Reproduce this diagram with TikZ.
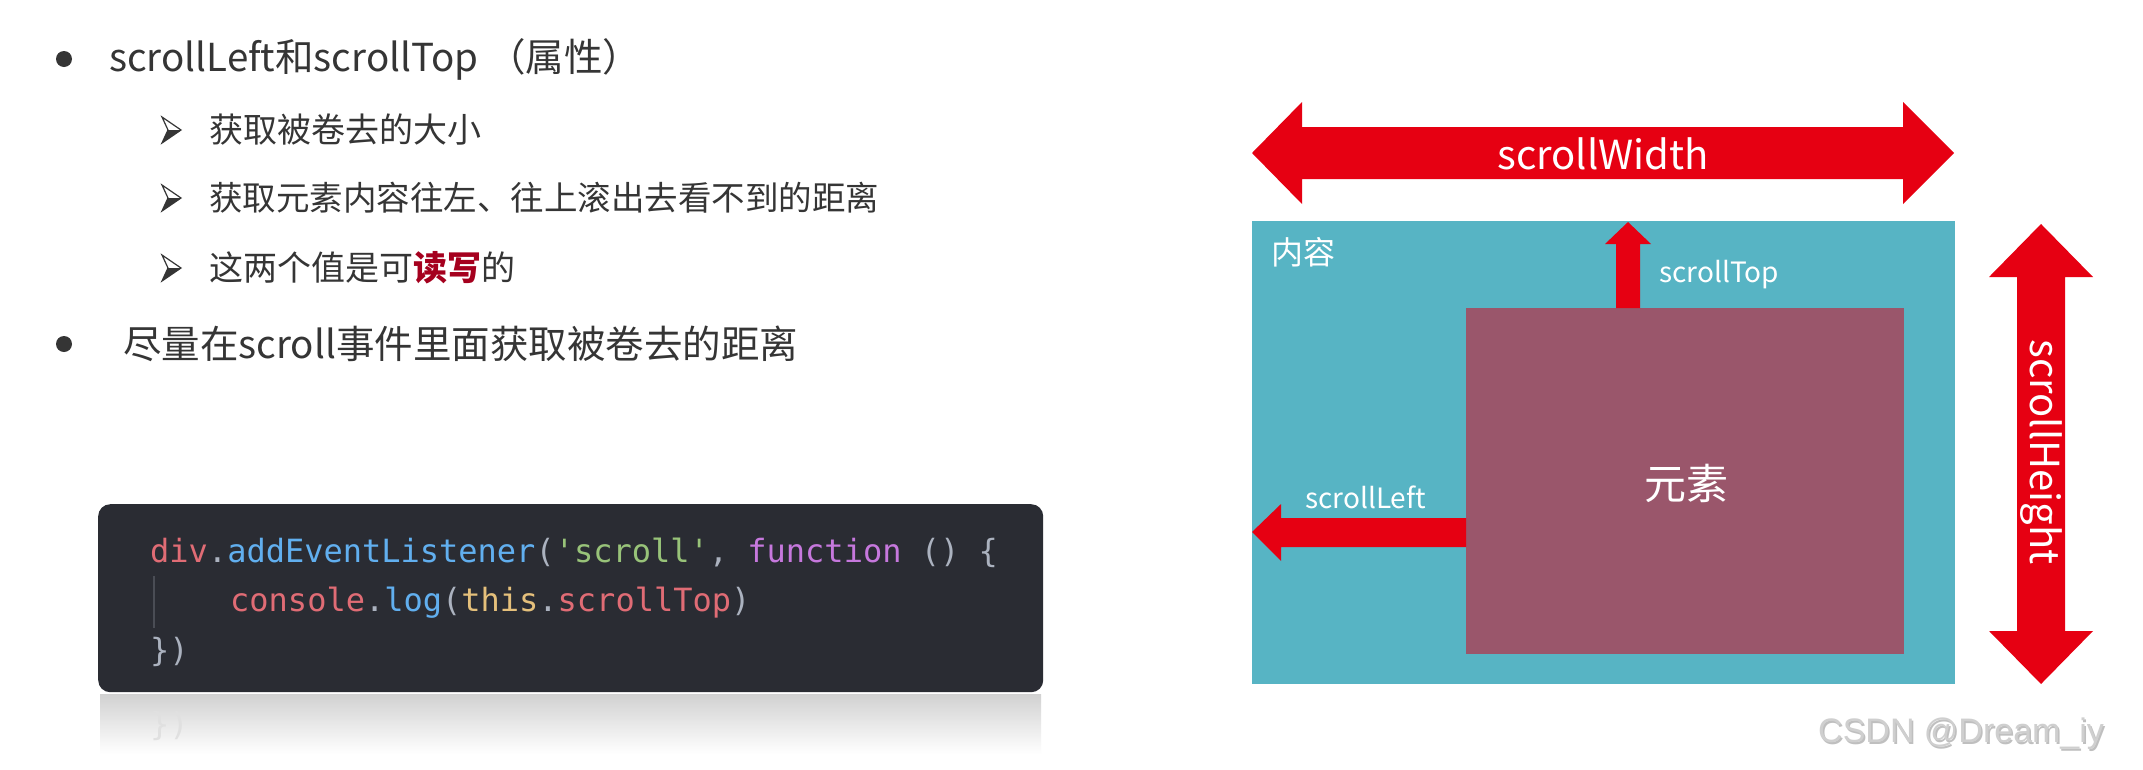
\documentclass[tikz,border=0pt]{standalone}
\usepackage{fontspec}
\newfontfamily\cjk{Noto Sans CJK SC}
\newfontfamily\wm{Liberation Sans}
\setmonofont{DejaVu Sans Mono}
\definecolor{txt}{HTML}{353535}
\definecolor{hl}{HTML}{A5001E}
\definecolor{tealc}{HTML}{57B4C4}
\definecolor{elemc}{HTML}{9A566B}
\definecolor{redc}{HTML}{E60012}
\definecolor{codebg}{HTML}{2A2C33}
\definecolor{cRed}{HTML}{E06C75}
\definecolor{cBlue}{HTML}{61AFEF}
\definecolor{cGreen}{HTML}{98C379}
\definecolor{cPurple}{HTML}{C678DD}
\definecolor{cYellow}{HTML}{E5C07B}
\definecolor{cGray}{HTML}{ABB2BF}
\definecolor{guide}{HTML}{4A4D55}
\definecolor{wmc}{HTML}{CFCFCF}
\begin{document}
\begin{tikzpicture}[x=1pt,y=-1pt,
  lefttext/.style={anchor=west,inner sep=0pt,text=txt,font=\cjk\fontsize{34}{40}\selectfont},
  toptext/.style={anchor=west,inner sep=0pt,text=txt,font=\cjk\fontsize{38.5}{44}\selectfont},
  dot/.style={circle,fill=txt,inner sep=0pt,minimum size=16pt},
  codeline/.style={anchor=west,inner sep=0pt,font=\ttfamily\fontsize{32}{38}\selectfont},
  whitelbl/.style={inner sep=0pt,text=white,font=\cjk\fontsize{28}{32}\selectfont},
  biglbl/.style={inner sep=0pt,text=white,font=\cjk\fontsize{40}{46}\selectfont},
  redarrow/.style={fill=redc,draw=none},
  arrowhead3d/.pic={
    \draw[txt,line width=1.2pt,line join=miter,fill=white] (0,-13) -- (19,0) -- (0,13) -- (6,0) -- cycle;
    \fill[txt] (6,0) -- (19,0) -- (0,13) -- cycle;
  }]
\useasboundingbox[fill=white] (0,0) rectangle (2143,769);

% ---------- left bullet text ----------
\node[dot] (b1) at (64,59) {};
\node[toptext] (t1) at (109,59) {scrollLeft和scrollTop （属性）};
\coordinate (a1) at (162,130);
\pic at (a1) {arrowhead3d};
\node[lefttext] (t2) at (209,130) {获取被卷去的大小};
\coordinate (a2) at (162,198);
\pic at (a2) {arrowhead3d};
\node[lefttext,font=\cjk\fontsize{33.5}{40}\selectfont] (t3) at (209,198) {获取元素内容往左、往上滚出去看不到的距离};
\coordinate (a3) at (162,268);
\pic at (a3) {arrowhead3d};
\node[lefttext] (t4) at (209,268) {这两个值是可{\color{hl}\bfseries 读写}的};
\node[dot] (b2) at (64,344) {};
\node[toptext] (t5) at (123,344) {尽量在scroll事件里面获取被卷去的距离};

% ---------- code block ----------
\shade[top color=black!18,bottom color=white] (100,694) rectangle (1041,754);
\node[codeline,text=black!12] (refl) at (150,726) {\})};
\node[fill=codebg,rounded corners=12pt,minimum width=945pt,minimum height=188pt,inner sep=0pt,anchor=north west] (code) at (98,504) {};
\draw[guide,line width=1.2pt] (154,576) -- (154,628);
\node[codeline] (c1) at (150,553) {\textcolor{cRed}{div}\textcolor{cGray}{.}\textcolor{cBlue}{addEventListener}\textcolor{cGray}{(}\textcolor{cGreen}{'scroll'}\textcolor{cGray}{,\ }\textcolor{cPurple}{function}\textcolor{cGray}{\ ()\ \{}};
\node[codeline] (c2) at (230,603) {\textcolor{cRed}{console}\textcolor{cGray}{.}\textcolor{cBlue}{log}\textcolor{cGray}{(}\textcolor{cYellow}{this}\textcolor{cGray}{.}\textcolor{cRed}{scrollTop}\textcolor{cGray}{)}};
\node[codeline,text=cGray] (c3) at (150,652) {\})};

% ---------- diagram ----------
\node[fill=tealc,minimum width=703pt,minimum height=463pt,inner sep=0pt,anchor=north west] (content) at (1252,221) {};
\node[fill=elemc,minimum width=438pt,minimum height=346pt,inner sep=0pt,anchor=north west] (elem) at (1466,308) {};

% scrollWidth double arrow
\fill[redarrow] (1252,153) -- (1302,102) -- (1302,127) -- (1903,127) -- (1903,102) -- (1954,153)
  -- (1903,204) -- (1903,179) -- (1302,179) -- (1302,204) -- cycle;
% scrollHeight double arrow
\fill[redarrow] (2041,224) -- (2093,277) -- (2065,277) -- (2065,631) -- (2093,631) -- (2041,684)
  -- (1989,631) -- (2017,631) -- (2017,277) -- (1989,277) -- cycle;
% scrollTop arrow
\fill[redarrow] (1616,308) -- (1616,244) -- (1605,244) -- (1628,222) -- (1651,244) -- (1640,244) -- (1640,308) -- cycle;
% scrollLeft arrow
\fill[redarrow] (1466,518) -- (1281,518) -- (1281,504) -- (1252,532) -- (1281,561) -- (1281,547) -- (1466,547) -- cycle;

\node[biglbl] (lw) at (1603,154) {scrollWidth};
\node[biglbl,rotate=-90] (lh) at (2041,452) {scrollHeight};
\node[whitelbl,anchor=west] (lt) at (1659,275) {scrollTop};
\node[whitelbl,anchor=west] (ll) at (1305,497) {scrollLeft};
\node[whitelbl,font=\cjk\fontsize{32}{36}\selectfont] (lc) at (1303,252) {内容};
\node[biglbl,font=\cjk\fontsize{42}{48}\selectfont] (le) at (1686,483) {元素};

% ---------- watermark ----------
\node[anchor=west,inner sep=0pt,text=black!25,font=\wm\fontsize{34}{40}\selectfont] at (1819.5,735.5) {CSDN @Dream\_iy};
\node[anchor=west,inner sep=0pt,text=wmc,font=\wm\fontsize{34}{40}\selectfont] (wm) at (1818,734) {CSDN @Dream\_iy};
\end{tikzpicture}
\end{document}
